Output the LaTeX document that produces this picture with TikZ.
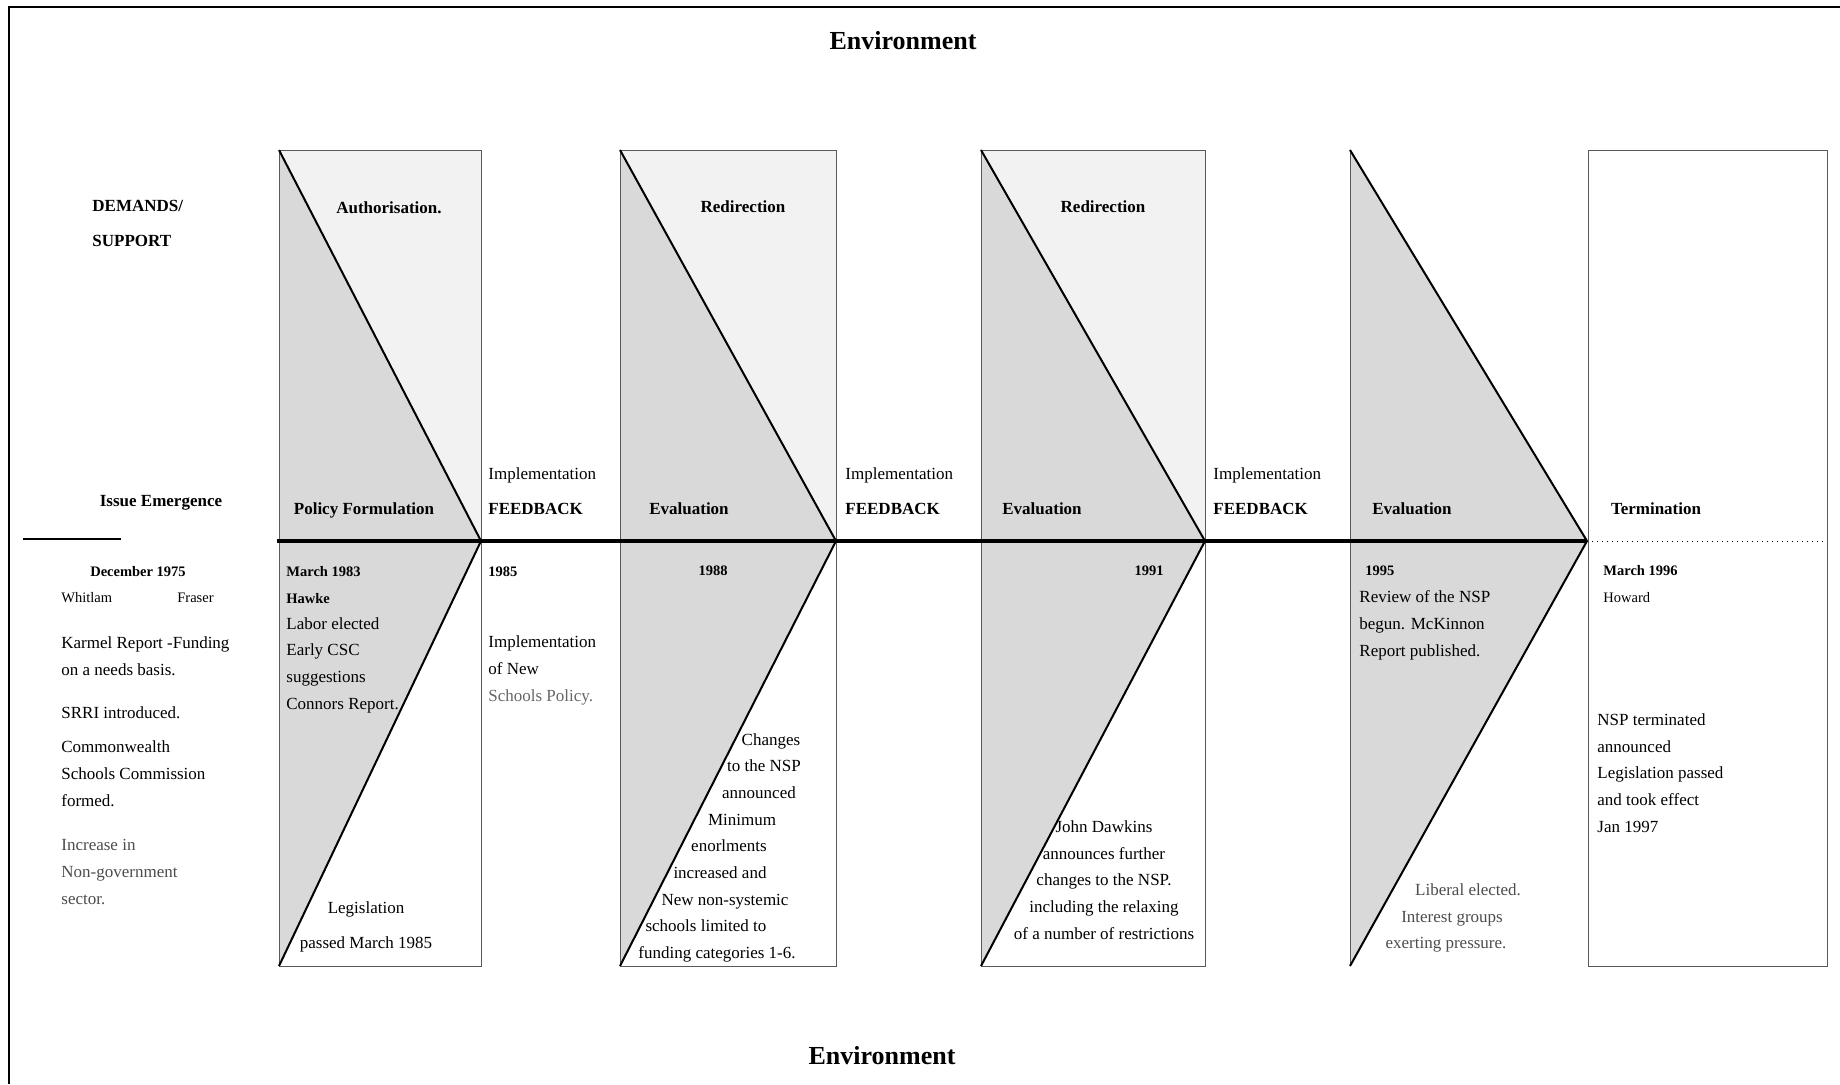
\documentclass[tikz,border=0pt]{standalone}
\usepackage{fontspec}
\setmainfont{Liberation Serif}
\usepackage{xcolor}

\newcommand{\mainsize}{\fontsize{8.5}{13.3}\selectfont}
\newcommand{\smallsize}{\fontsize{7.25}{13.3}\selectfont}
\newcommand{\envsize}{\fontsize{13}{16}\selectfont}

\begin{document}
\begin{tikzpicture}[x=0.5pt, y=-0.5pt,
    txt/.style={font=\mainsize, inner sep=0pt, align=left, anchor=base west},
    lbl/.style={font=\mainsize\bfseries, inner sep=0pt, anchor=base},
    date/.style={font=\smallsize\bfseries, inner sep=0pt, anchor=base west, align=left},
    note/.style={font=\smallsize, inner sep=0pt, anchor=base west},
    faded/.style={text=black!70},
    boxline/.style={line width=0.5pt, draw=black!65},
    diag/.style={line width=1pt, black},
    shadetri/.style={fill=black!15},
    shadeup/.style={fill=black!5}]
          \useasboundingbox (0,0) rectangle (1840,1084);

          % Define stage boxes
          \foreach \i/\xl/\xr in {1/279/481, 2/620/836, 3/981/1205} {
            \coordinate (top\i) at (\xl,150);
            \coordinate (tip\i) at (\xr,541);
            \coordinate (bot\i) at (\xl,966);
            \fill[shadeup] (top\i) rectangle (tip\i);
            \fill[shadetri] (top\i) -- (tip\i) -- (bot\i) -- cycle;
            \draw[boxline] (top\i) rectangle (\xr,966);
            \draw[diag] (top\i) -- (tip\i) -- (bot\i);
          }
          % last evaluation triangle, no box
          \coordinate (top4) at (1350,150);
          \coordinate (tip4) at (1587,541);
          \coordinate (bot4) at (1350,966);
          \fill[shadetri] (top4) -- (tip4) -- (bot4) -- cycle;
          \draw[boxline] (top4) -- (bot4);
          \draw[diag] (top4) -- (tip4) -- (bot4);

          % Termination box
          \coordinate (top5) at (1588,150);
          \coordinate (bot5) at (1827,966);
          \coordinate (end5) at (1827,541);
          \draw[boxline] (top5) rectangle (bot5);

          % Frame
          \coordinate (fr1) at (9,7);
          \coordinate (fr2) at (1840,7);
          \coordinate (fr3) at (9,1084);
          \draw[line width=1pt] (fr2) -- (fr1) -- (fr3);

          % Draw time axis
          \coordinate (ax0) at (277,541);
          \draw[line width=2pt] (ax0) -- (tip4);
          \draw[line width=0.5pt, dotted] (tip4) -- (end5);
          \coordinate (ie1) at (23,539);
          \coordinate (ie2) at (121,539);
          \draw[line width=1.4pt] (ie1) -- (ie2);

          % Environment
          \node[lbl, font=\envsize\bfseries] (envtop) at (903,49) {Environment};
          \node[lbl, font=\envsize\bfseries] (envbot) at (882,1064) {Environment};

          % Issue emergence (multi-line nodes sit on their last baseline)
          \node[lbl, align=left, anchor=base west] (demands) at (92,246) {DEMANDS/\\[4.2pt]SUPPORT};
          \node[lbl] (issue) at (161,506) {Issue Emergence};
          \node[date, anchor=base] (dec75) at (138,576) {December 1975};
          \node[note] (whitlam) at (61,602) {Whitlam};
          \node[note] (fraser) at (177,602) {Fraser};
          \node[txt] (karmel) at (61,675) {Karmel Report -Funding\\on a needs basis.};
          \node[txt] (srri) at (61,718) {SRRI introduced.};
          \node[txt] (csc) at (61,806) {Commonwealth\\Schools Commission\\formed.};
          \node[txt, faded] (nongov) at (61,904) {Increase in\\Non-government\\sector.};

          % Policy formulation
          \node[lbl] (auth) at (389,213) {Authorisation.};
          \node[lbl] (polform) at (364,514) {Policy Formulation};
          \node[date] (mar83) at (286,603) {March 1983\\Hawke};
          \node[txt] (labor) at (286,709) {Labor elected\\Early CSC\\suggestions\\Connors Report.};
          \node[txt, align=center, anchor=base] (legis) at (366,948) {Legislation\\[4.2pt]passed March 1985};

          % Implementation / feedback
          \foreach \j/\x in {A/488, B/845, C/1213} {
            \node[txt] (imp\j) at (\x,479) {Implementation};
            \node[lbl, anchor=base west] (fb\j) at (\x,514) {FEEDBACK};
          }
          \node[date] (y85) at (488,576) {1985};
          \node[txt] (implnew) at (488,701) {Implementation\\of New\\\textcolor{black!60}{Schools Policy.}};

          % First redirection
          \node[lbl] (redirA) at (743,212) {Redirection};
          \node[lbl] (evalA) at (689,514) {Evaluation};
          \node[date, anchor=base] (y88) at (713,575) {1988};
          \foreach \k/\x/\y/\t in {1/771/745/Changes, 2/764/771/to the NSP, 3/759/798/announced,
              4/742/825/Minimum, 5/729/851/enorlments, 6/720/878/increased and,
              7/725/905/New non-systemic, 8/706/931/schools limited to, 9/717/958/funding categories 1-6.}
            \node[txt, anchor=base] (chg\k) at (\x,\y) {\t};

          % Second redirection
          \node[lbl] (redirB) at (1103,212) {Redirection};
          \node[lbl] (evalB) at (1042,514) {Evaluation};
          \node[date, anchor=base] (y91) at (1149,575) {1991};
          \node[txt, align=center, anchor=base] (dawkins) at (1104,939) {John Dawkins\\announces further\\changes to the NSP.\\including the relaxing\\of a number of restrictions};

          % Review
          \node[lbl] (evalC) at (1412,514) {Evaluation};
          \node[date] (y95) at (1365,575) {1995};
          \node[txt] (review) at (1359,656) {Review of the NSP\\begun. McKinnon\\Report published.};
          \foreach \k/\x/\y/\t in {1/1468/895/Liberal elected., 2/1452/922/Interest groups, 3/1446/948/exerting pressure.}
            \node[txt, faded, anchor=base] (lib\k) at (\x,\y) {\t};

          % Termination
          \node[lbl] (term) at (1656,514) {Termination};
          \node[date] (mar96) at (1603,575) {March 1996};
          \node[note] (howard) at (1603,602) {Howard};
          \node[txt] (nspterm) at (1597,832) {NSP terminated\\announced\\Legislation passed\\and took effect\\Jan 1997};
        \end{tikzpicture}
\end{document}
